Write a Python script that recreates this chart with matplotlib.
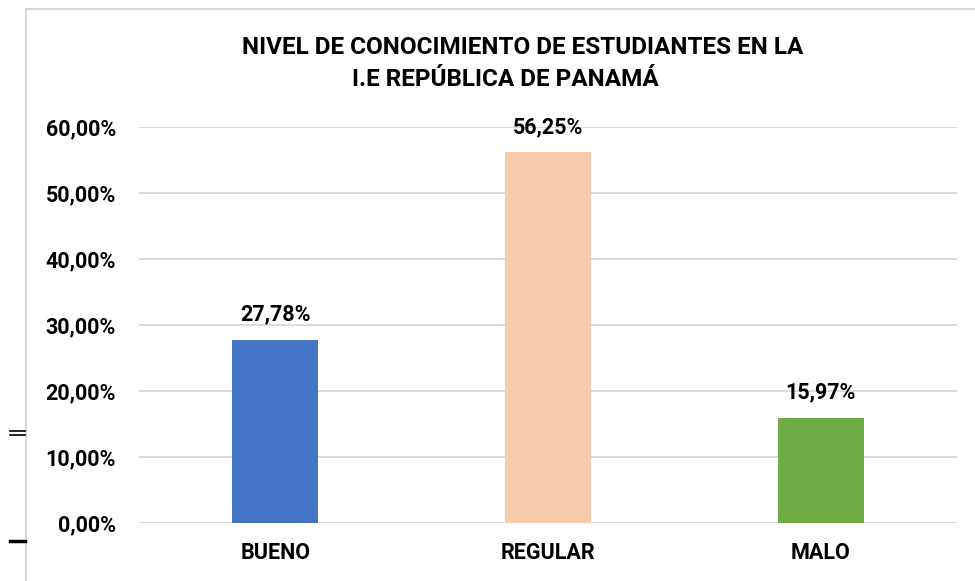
import matplotlib
matplotlib.use("Agg")
import matplotlib.pyplot as plt
from matplotlib.lines import Line2D

categories = ["BUENO", "REGULAR", "MALO"]
values = [27.78, 56.25, 15.97]
colors = ["#4472C4", "#F8CBAD", "#70AD47"]
yticks = [0, 10, 20, 30, 40, 50, 60]
title_lines = ["NIVEL DE CONOCIMIENTO DE ESTUDIANTES EN LA", "I.E REPÚBLICA DE PANAMÁ"]

plt.rcParams['font.family'] = ['Roboto', 'DejaVu Sans']
plt.rcParams['font.weight'] = 'bold'

fig = plt.figure(figsize=(9.75, 5.81), dpi=100)
ax = fig.add_axes([0.1426, 0.0998, 0.8389, 0.6816])

fs = 15.5
x = list(range(len(categories)))
bars = ax.bar(x, values, width=0.315, color=colors, zorder=3)
ax.set_xlim(-0.5, len(categories) - 0.5)
ax.set_ylim(0, 60)
ax.set_yticks(yticks)
ax.set_yticklabels([f"{v:.2f}%".replace(".", ",") for v in yticks], fontsize=fs, fontweight='bold')
ax.set_xticks(x)
ax.set_xticklabels(categories, fontsize=fs, fontweight='bold')
ax.tick_params(axis='both', length=0)
ax.tick_params(axis='y', pad=16.5)
ax.tick_params(axis='x', pad=14)
ax.grid(axis='y', color='#D9D9D9', linewidth=1.3, zorder=0)
for s in ax.spines.values():
    s.set_visible(False)

for xi, v in zip(x, values):
    ax.annotate(f"{v:.2f}%".replace(".", ","), (xi, v), xytext=(0, 10), textcoords='offset points',
                ha='center', va='bottom', fontsize=fs, fontweight='bold')

fig.text(523/975, 1 - 47/581, title_lines[0], ha='center', va='center', fontsize=17.5, fontweight='bold')
fig.text(505/975, 1 - 79/581, title_lines[1], ha='center', va='center', fontsize=17.5, fontweight='bold')

# chart frame
fig.add_artist(Line2D([26/975, 26/975], [0, 1 - 9/581], color='#D9D9D9', linewidth=1.5))
fig.add_artist(Line2D([26/975, 1], [1 - 9/581, 1 - 9/581], color='#D9D9D9', linewidth=1.5))
# left-edge marks
fig.add_artist(Line2D([10/975, 25/975], [1 - 431/581, 1 - 431/581], color='black', linewidth=1.2))
fig.add_artist(Line2D([10/975, 25/975], [1 - 435/581, 1 - 435/581], color='black', linewidth=1.2))
fig.add_artist(Line2D([10/975, 25/975], [1 - 541/581, 1 - 541/581], color='black', linewidth=2.5))

fig.savefig("out.png", dpi=100, facecolor='white')
